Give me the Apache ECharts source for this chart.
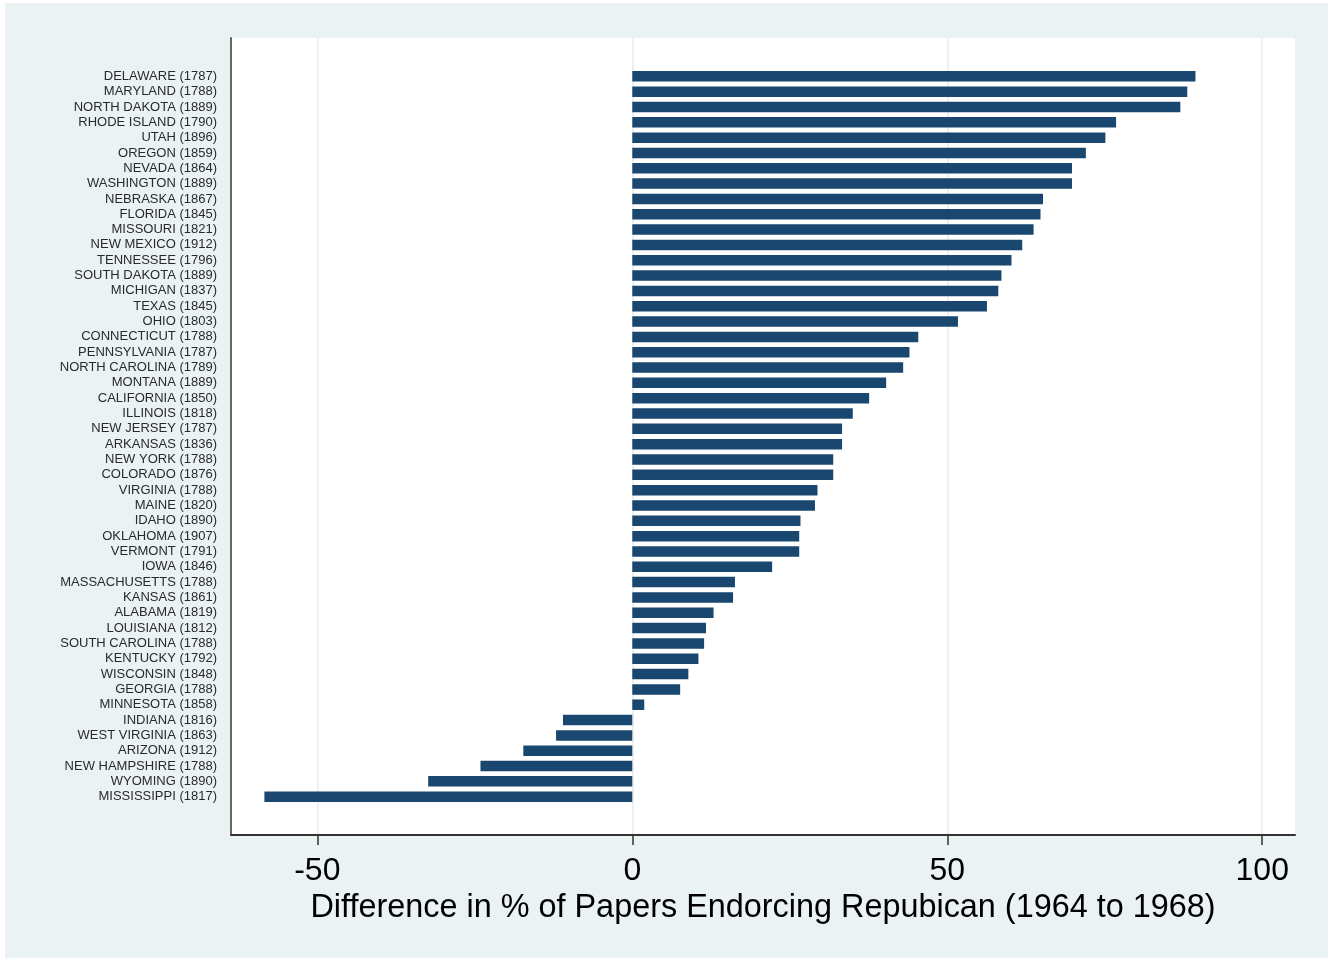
<!DOCTYPE html>
<html>
<head>
<meta charset="utf-8">
<script src="https://cdn.jsdelivr.net/npm/echarts@6/dist/echarts.min.js"></script>
<style>
  html, body { margin: 0; padding: 0; background: #ffffff; }
  #chart { position: absolute; left: 5px; top: 3px; width: 1323px; height: 955px; }
</style>
</head>
<body>
<div id="chart"></div>
<script>
// states sorted by change, top to bottom
const states = [
    'DELAWARE (1787)', 'MARYLAND (1788)', 'NORTH DAKOTA (1889)', 'RHODE ISLAND (1790)',
    'UTAH (1896)', 'OREGON (1859)', 'NEVADA (1864)', 'WASHINGTON (1889)',
    'NEBRASKA (1867)', 'FLORIDA (1845)', 'MISSOURI (1821)', 'NEW MEXICO (1912)',
    'TENNESSEE (1796)', 'SOUTH DAKOTA (1889)', 'MICHIGAN (1837)', 'TEXAS (1845)',
    'OHIO (1803)', 'CONNECTICUT (1788)', 'PENNSYLVANIA (1787)', 'NORTH CAROLINA (1789)',
    'MONTANA (1889)', 'CALIFORNIA (1850)', 'ILLINOIS (1818)', 'NEW JERSEY (1787)',
    'ARKANSAS (1836)', 'NEW YORK (1788)', 'COLORADO (1876)', 'VIRGINIA (1788)',
    'MAINE (1820)', 'IDAHO (1890)', 'OKLAHOMA (1907)', 'VERMONT (1791)',
    'IOWA (1846)', 'MASSACHUSETTS (1788)', 'KANSAS (1861)', 'ALABAMA (1819)',
    'LOUISIANA (1812)', 'SOUTH CAROLINA (1788)', 'KENTUCKY (1792)', 'WISCONSIN (1848)',
    'GEORGIA (1788)', 'MINNESOTA (1858)', 'INDIANA (1816)', 'WEST VIRGINIA (1863)',
    'ARIZONA (1912)', 'NEW HAMPSHIRE (1788)', 'WYOMING (1890)', 'MISSISSIPPI (1817)'
];

const diffs = [
    89.4, 88.1, 87.0, 76.8,
    75.1, 72.0, 69.8, 69.8,
    65.2, 64.8, 63.7, 61.9,
    60.2, 58.6, 58.1, 56.3,
    51.7, 45.4, 44.0, 43.0,
    40.3, 37.6, 35.0, 33.3,
    33.3, 31.9, 31.9, 29.4,
    29.0, 26.7, 26.5, 26.5,
    22.2, 16.3, 16.0, 12.9,
    11.7, 11.4, 10.5, 8.9,
    7.6, 1.9, -11.0, -12.1,
    -17.3, -24.1, -32.4, -58.4
];

const xTicks = [-50, 0, 50, 100];
const xTitle = 'Difference in % of Papers Endorcing Repubican (1964 to 1968)';

// stata leaves some room above the first bar and below the last one
const pad = ['', ''];
const cats = pad.concat(states, pad);
const vals = [null, null].concat(diffs, [null, null]);

const font = "'Liberation Sans', Arial, sans-serif";

const chart = echarts.init(document.getElementById('chart'));

const option = {
    backgroundColor: '#eaf2f3',
    animation: false,
    grid: {
        left: 226,
        right: 33,
        top: 35,
        bottom: 123,
        show: true,
        backgroundColor: '#ffffff',
        borderWidth: 0
    },
    xAxis: {
        type: 'value',
        min: -63.7,
        max: 105.2,
        name: xTitle,
        nameLocation: 'middle',
        nameGap: 54,
        nameTextStyle: {
            fontFamily: font,
            fontSize: 32.4,
            color: '#000000'
        },
        axisLine: { show: true, lineStyle: { color: '#333333', width: 2 } },
        axisTick: {
            show: true,
            customValues: xTicks,
            length: 10,
            lineStyle: { color: '#333333', width: 1.5 }
        },
        axisLabel: {
            customValues: xTicks,
            margin: 20,
            fontFamily: font,
            fontSize: 32,
            color: '#000000'
        },
        splitLine: { show: true, lineStyle: { color: '#e3ecee', width: 1.5 } }
    },
    yAxis: {
        type: 'category',
        data: cats,
        inverse: true,
        axisLine: { show: true, onZero: false, lineStyle: { color: '#666666', width: 2 } },
        axisTick: { show: false },
        axisLabel: {
            interval: 0,
            margin: 14,
            fontFamily: font,
            fontSize: 13,
            color: '#2a2a2a'
        },
        splitLine: { show: false }
    },
    series: [
        {
            type: 'bar',
            data: vals,
            barWidth: 10.5,
            itemStyle: { color: '#1a476f' }
        }
    ]
};

chart.setOption(option);
</script>
</body>
</html>
